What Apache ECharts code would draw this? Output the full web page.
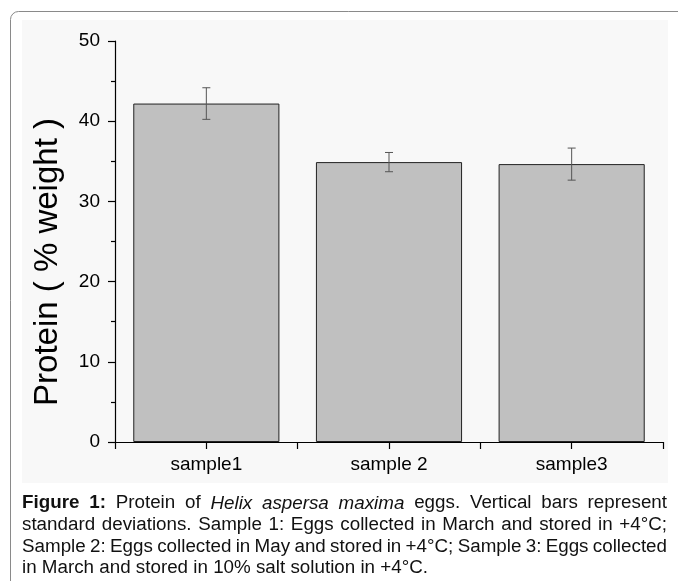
<!DOCTYPE html>
<html>
<head>
<meta charset="utf-8">
<script src="https://cdn.jsdelivr.net/npm/echarts@6/dist/echarts.min.js"></script>
<style>html,body{margin:0;padding:0;background:#fff;}#c{width:678px;height:581px;}</style>
</head>
<body>
<div id="c"></div>
<script>
const categories = ['sample1', 'sample 2', 'sample3'];
const proteinMean = [42.2, 34.9, 34.65];
const proteinSD = [1.97, 1.2, 2.0];
const yTicks = [0, 10, 20, 30, 40, 50];
const yAxisTitle = 'Protein ( % weight )';
const captionLines = [
  [{t:'Figure 1:', s:'b'}, {t:' Protein of ', s:'n'}, {t:'Helix aspersa maxima', s:'i'}, {t:' eggs. Vertical bars represent', s:'n'}],
  [{t:'standard deviations. Sample 1: Eggs collected in March and stored in +4°C;', s:'n'}],
  [{t:'Sample 2: Eggs collected in May and stored in +4°C; Sample 3: Eggs collected', s:'n'}],
  [{t:'in March and stored in 10% salt solution in +4°C.', s:'n'}]
];

const FONT = '"Liberation Sans", Arial, sans-serif';
const chart = echarts.init(document.getElementById('c'), null, {renderer: 'canvas'});

const errData = categories.map((c, i) => [i, proteinMean[i] - proteinSD[i], proteinMean[i] + proteinSD[i]]);

// caption layout (justified, condensed)
const CAP_SIZE = 18;
const cv = document.createElement('canvas').getContext('2d');
const fontOf = s => (s === 'b' ? 'bold ' : s === 'i' ? 'italic ' : '') + CAP_SIZE + 'px ' + FONT;
const measure = (t, s) => { cv.font = fontOf(s); return cv.measureText(t).width; };
const capLeft = 22, capRight = 667, lastLineRight = 428;
const baselines = [512.5, 534.5, 556, 577.5];
const lineWords = captionLines.map(segs => {
  const words = [];
  segs.forEach(sg => sg.t.split(' ').forEach(w => { if (w.length) words.push({t: w, s: sg.s}); }));
  return words;
});
// common horizontal condensation from the last (non-justified) line
const lastWords = lineWords[lineWords.length - 1];
const spaceW = measure(' ', 'n');
const lastNat = lastWords.reduce((a, w) => a + measure(w.t, w.s), 0) + spaceW * (lastWords.length - 1);
const k = (lastLineRight - capLeft) / lastNat;
const captionGraphics = [];
lineWords.forEach((words, li) => {
  const ws = words.map(w => measure(w.t, w.s) * k);
  const sum = ws.reduce((a, b) => a + b, 0);
  let gap = spaceW * k;
  let sx = k;
  if (li < lineWords.length - 1) {
    gap = (capRight - capLeft - sum) / (words.length - 1);
    if (gap < spaceW * k * 0.8) { // too tight: shrink instead
      gap = spaceW * k;
      sx = k * (capRight - capLeft - gap * (words.length - 1)) / sum;
    }
  }
  let x = capLeft;
  words.forEach((w, wi) => {
    captionGraphics.push({
      type: 'text', x: x, y: baselines[li], scaleX: sx, originX: 0, originY: 0, silent: true,
      style: {text: w.t, font: fontOf(w.s), fill: '#111', align: 'left', verticalAlign: 'bottom'}
    });
    x += ws[wi] * sx / k + gap;
  });
});

const option = {
  animation: false,
  backgroundColor: '#ffffff',
  grid: {left: 115, right: 15, top: 41, bottom: 139, containLabel: false},
  graphic: [
    {type: 'rect', silent: true, z: -10, shape: {x: 10.5, y: 11.5, width: 700, height: 600, r: 8},
     style: {fill: '#ffffff', stroke: '#8a8a8a', lineWidth: 1}},
    {type: 'rect', silent: true, z: -9, shape: {x: 22, y: 20, width: 646, height: 463},
     style: {fill: '#f8f8f8'}},
    {type: 'text', x: 48, y: 262, rotation: Math.PI / 2,
     style: {text: yAxisTitle, font: '33px ' + FONT, fill: '#000', align: 'center', verticalAlign: 'middle'}},
    ...captionGraphics
  ],
  xAxis: [
    {type: 'category', data: categories, position: 'bottom',
     axisLine: {show: true, lineStyle: {color: '#000', width: 1.2}},
     axisTick: {show: true, alignWithLabel: true, length: 7, lineStyle: {color: '#000', width: 1.2}},
     axisLabel: {color: '#000', fontSize: 19, fontFamily: FONT, margin: 13},
     splitLine: {show: false}},
    {type: 'category', data: categories, position: 'bottom',
     axisLine: {show: true, lineStyle: {color: '#000', width: 1.2}},
     axisTick: {show: true, length: 7, lineStyle: {color: '#000', width: 1.2}},
     axisLabel: {show: false}, splitLine: {show: false}}
  ],
  yAxis: {
    type: 'value', min: yTicks[0], max: yTicks[yTicks.length - 1], interval: 10,
    axisLine: {show: true, lineStyle: {color: '#000', width: 1.2}},
    axisTick: {show: true, length: 7, lineStyle: {color: '#000', width: 1.2}},
    minorTick: {show: true, splitNumber: 2, length: 4, lineStyle: {color: '#000', width: 1.2}},
    axisLabel: {color: '#000', fontSize: 19, fontFamily: FONT, margin: 15},
    splitLine: {show: false}
  },
  series: [
    {type: 'bar', data: proteinMean, barCategoryGap: '20%', xAxisIndex: 0,
     itemStyle: {color: '#c0c0c0', borderColor: '#222', borderWidth: 1}},
    {type: 'custom', xAxisIndex: 0, data: errData, z: 10,
     renderItem: (params, api) => {
       const x = api.value(0);
       const top = api.coord([x, api.value(2)]);
       const bot = api.coord([x, api.value(1)]);
       const hw = 4;
       const st = {stroke: '#555', lineWidth: 1};
       return {type: 'group', children: [
         {type: 'line', shape: {x1: top[0], y1: top[1], x2: bot[0], y2: bot[1]}, style: st},
         {type: 'line', shape: {x1: top[0] - hw, y1: top[1], x2: top[0] + hw, y2: top[1]}, style: st},
         {type: 'line', shape: {x1: bot[0] - hw, y1: bot[1], x2: bot[0] + hw, y2: bot[1]}, style: st}
       ]};
     }}
  ]
};
chart.setOption(option);
</script>
</body>
</html>
